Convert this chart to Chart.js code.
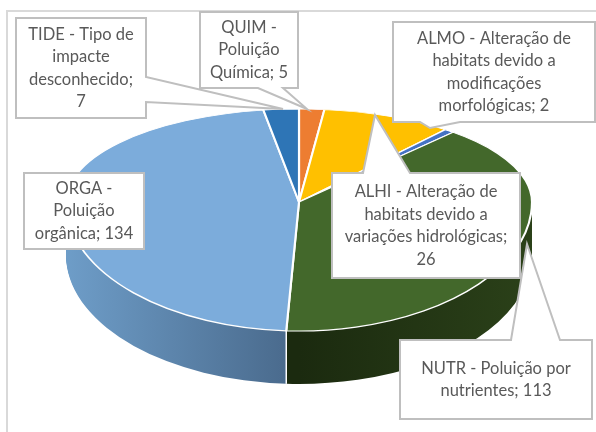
<!DOCTYPE html>
<html>
<head>
<meta charset="utf-8">
<script src="https://cdn.jsdelivr.net/npm/chart.js@4"></script>
<style>
    html, body { margin: 0; padding: 0; background: #fff; overflow: hidden; }
    canvas { display: block; }
</style>
</head>
<body>
<canvas id="impactsPie" width="596" height="432"></canvas>
<script>
// clockwise from the top of the pie
const categories = [
    'QUIM - Poluição Química',
    'ALHI - Alteração de habitats devido a variações hidrológicas',
    'ALMO - Alteração de habitats devido a modificações morfológicas',
    'NUTR - Poluição por nutrientes',
    'ORGA - Poluição orgânica',
    'TIDE - Tipo de impacte desconhecido'
];
const values = [5, 26, 2, 113, 134, 7];
const sliceColors = ['#ed7d31', '#ffc000', '#4472c4', '#43682b', '#7cacdb', '#2e75b6'];

// side wall gradients, left to right, only slices facing the viewer need one
const sideColors = [null, null, null, ['#1b2a0f', '#2b4119'], ['#6e9dc8', '#48688a'], null];

// fake perspective: top and bottom of the face get their own vertical radius
const pieShape = { cx: 299, cy: 202, rx: 233, ryTop: 93, ryBottom: 129, depth: 53 };

// callouts in the same order as categories: text box, wrap width, outline with the tail
const callouts = [
    { box: [200, 12, 298, 88], wrap: 88, outline: [[200, 12], [298, 12], [298, 88], [283, 88], [307, 109], [258, 88], [200, 88]] },
    { box: [332, 173, 520, 278], wrap: 178, outline: [[332, 173], [363, 173], [375, 115], [410, 173], [520, 173], [520, 278], [332, 278]] },
    { box: [393, 22, 595, 122], wrap: 192, outline: [[393, 22], [595, 22], [595, 122], [460, 122], [430, 128], [420, 122], [393, 122]] },
    { box: [400, 340, 592, 419], wrap: 182, outline: [[400, 340], [511, 340], [527, 244], [560, 340], [592, 340], [592, 419], [400, 419]] },
    { box: [24, 173, 144, 249], wrap: 110, outline: [[24, 173], [144, 173], [144, 249], [24, 249]] },
    { box: [16, 18, 146, 118], wrap: 108, outline: [[16, 18], [146, 18], [146, 77], [283, 109], [146, 102], [146, 118], [16, 118]] }
];

function faceTransform(ctx, arc, ry, dy) {
    ctx.translate(pieShape.cx, pieShape.cy + dy);
    ctx.scale(pieShape.rx / arc.outerRadius, ry / arc.outerRadius);
    ctx.translate(-arc.x, -arc.y);
}

function drawWall(chart, ctx, arcs) {
    const first = arcs[0];
    const R = first.outerRadius;
    ctx.save();
    ctx.beginPath();
    ctx.rect(0, pieShape.cy, chart.width, chart.height - pieShape.cy);
    ctx.clip();
    for (let i = pieShape.depth; i > 0; i--) {
        arcs.forEach(function(arc, idx) {
            if (!sideColors[idx]) return;
            ctx.save();
            faceTransform(ctx, arc, pieShape.ryBottom, i);
            const x0 = idx === 4 ? arc.x - R : arc.x;
            const grad = ctx.createLinearGradient(x0, 0, x0 + R, 0);
            grad.addColorStop(0, sideColors[idx][0]);
            grad.addColorStop(1, sideColors[idx][1]);
            const saved = arc.options;
            arc.options = Object.assign({}, saved, { backgroundColor: grad, borderWidth: 0 });
            arc.draw(ctx);
            arc.options = saved;
            ctx.restore();
        });
    }
    ctx.restore();

    // white seam where ORGA meets NUTR on the wall
    const seam = arcs[4];
    const seamX = pieShape.cx + pieShape.rx * Math.cos(seam.startAngle);
    const seamY = pieShape.cy + pieShape.ryBottom * Math.sin(seam.startAngle);
    ctx.save();
    ctx.strokeStyle = '#fff';
    ctx.lineWidth = 1.5;
    ctx.beginPath();
    ctx.moveTo(seamX, seamY);
    ctx.lineTo(seamX, seamY + pieShape.depth);
    ctx.stroke();
    ctx.restore();
}

function drawFace(chart, ctx, arcs) {
    const halves = [
        { y: 0, h: pieShape.cy, ry: pieShape.ryTop },
        { y: pieShape.cy, h: chart.height - pieShape.cy, ry: pieShape.ryBottom }
    ];
    halves.forEach(function(half) {
        ctx.save();
        ctx.beginPath();
        ctx.rect(0, half.y, chart.width, half.h);
        ctx.clip();
        arcs.forEach(function(arc) {
            ctx.save();
            faceTransform(ctx, arc, half.ry, 0);
            arc.draw(ctx);
            ctx.restore();
        });
        ctx.restore();
    });
}

function wrapText(ctx, text, maxWidth) {
    const lines = [];
    let line = '';
    text.split(' ').forEach(function(word) {
        const next = line ? line + ' ' + word : word;
        if (line && ctx.measureText(next).width > maxWidth) {
            lines.push(line);
            line = word;
        } else {
            line = next;
        }
    });
    lines.push(line);
    return lines;
}

function drawCallouts(ctx) {
    ctx.save();
    ctx.font = '16.5px Lato';
    ctx.textAlign = 'center';
    ctx.textBaseline = 'middle';
    ctx.lineJoin = 'miter';
    callouts.forEach(function(c, idx) {
        ctx.beginPath();
        c.outline.forEach(function(p, i) {
            if (i === 0) ctx.moveTo(p[0], p[1]);
            else ctx.lineTo(p[0], p[1]);
        });
        ctx.closePath();
        ctx.fillStyle = '#fff';
        ctx.fill();
        ctx.strokeStyle = '#bfbfbf';
        ctx.lineWidth = 2;
        ctx.stroke();

        const b = c.box;
        const lines = wrapText(ctx, categories[idx] + '; ' + values[idx], c.wrap);
        const lineHeight = 22.5;
        const midX = (b[0] + b[2]) / 2;
        const midY = (b[1] + b[3]) / 2;
        ctx.fillStyle = '#595959';
        lines.forEach(function(line, i) {
            ctx.fillText(line, midX, midY + (i - (lines.length - 1) / 2) * lineHeight);
        });
    });
    ctx.restore();
}

const pie3dPlugin = {
    id: 'pie3d',
    beforeDraw: function(chart) {
        // outer chart frame, runs off the right and bottom of the picture
        const ctx = chart.ctx;
        ctx.save();
        ctx.strokeStyle = '#d9d9d9';
        ctx.lineWidth = 2;
        ctx.strokeRect(7, 11, chart.width + 20, chart.height + 20);
        ctx.restore();
    },
    beforeDatasetsDraw: function(chart) {
        const arcs = chart.getDatasetMeta(0).data;
        drawWall(chart, chart.ctx, arcs);
        drawFace(chart, chart.ctx, arcs);
        return false;
    },
    afterDraw: function(chart) {
        drawCallouts(chart.ctx);
    }
};

const config = {
    type: 'pie',
    data: {
        labels: categories,
        datasets: [{
            data: values,
            backgroundColor: sliceColors,
            borderColor: '#fff',
            borderWidth: 2
        }]
    },
    options: {
        responsive: false,
        animation: false,
        plugins: {
            legend: { display: false },
            tooltip: { enabled: false }
        }
    },
    plugins: [pie3dPlugin]
};

const impactsChart = new Chart(document.getElementById('impactsPie').getContext('2d'), config);
</script>
</body>
</html>
